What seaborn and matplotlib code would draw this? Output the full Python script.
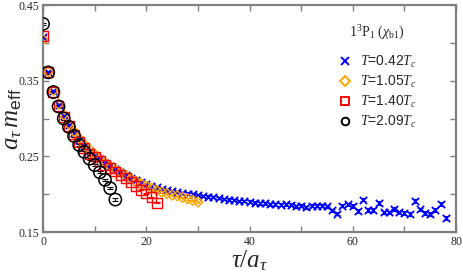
import numpy as np
import pandas as pd
import matplotlib
matplotlib.use("Agg")
import matplotlib.pyplot as plt
import seaborn as sns
from matplotlib.lines import Line2D
from matplotlib.ticker import MultipleLocator

# ---- data ----
tau_042 = list(range(0, 79))
m_042 = [0.408, 0.361, 0.336, 0.318, 0.303, 0.291, 0.281, 0.272, 0.264, 0.257,
         0.251, 0.246, 0.241, 0.237, 0.233, 0.229, 0.226, 0.222, 0.219, 0.216,
         0.213, 0.211, 0.209, 0.207, 0.205, 0.204, 0.203, 0.202, 0.201, 0.200,
         0.199, 0.198, 0.197, 0.196, 0.195, 0.194, 0.193, 0.192, 0.191, 0.191,
         0.190, 0.189, 0.188, 0.188, 0.187, 0.187, 0.186, 0.187, 0.186, 0.184,
         0.185, 0.183, 0.185, 0.185, 0.185, 0.184, 0.179, 0.174, 0.185, 0.187,
         0.184, 0.178, 0.193, 0.179, 0.179, 0.188, 0.176, 0.176, 0.181, 0.176,
         0.175, 0.174, 0.191, 0.180, 0.175, 0.174, 0.179, 0.187, 0.169]
e_042 = [0.001] * 20 + [0.0015] * 20 + [0.002] * 20 + [0.0025] * 19

tau_105 = list(range(0, 31))
m_105 = [0.404, 0.362, 0.337, 0.319, 0.305, 0.293, 0.283, 0.274, 0.266, 0.259,
         0.253, 0.247, 0.242, 0.237, 0.233, 0.229, 0.225, 0.221, 0.217, 0.214,
         0.211, 0.208, 0.205, 0.203, 0.201, 0.199, 0.198, 0.196, 0.194, 0.192,
         0.190]
e_105 = [0.001] * 31

tau_140 = list(range(0, 23))
m_140 = [0.409, 0.361, 0.335, 0.317, 0.302, 0.290, 0.279, 0.269, 0.261, 0.253,
         0.250, 0.244, 0.239, 0.235, 0.230, 0.225, 0.221, 0.216, 0.211, 0.206,
         0.201, 0.196, 0.189]
e_140 = [0.001] * 23

tau_209 = list(range(0, 15))
m_209 = [0.425, 0.361, 0.335, 0.316, 0.300, 0.289, 0.277, 0.265, 0.256, 0.247,
         0.2385, 0.229, 0.219, 0.208, 0.193]
e_209 = [0.0015] * 15

labels = [r"$\mathit{T}$=0.42$\mathit{T}_c$", r"$\mathit{T}$=1.05$\mathit{T}_c$",
          r"$\mathit{T}$=1.40$\mathit{T}_c$", r"$\mathit{T}$=2.09$\mathit{T}_c$"]
legend_title = r"1$^3$P$_1$ ($\chi_{\rm b1}$)"
x_ticks = [0, 20, 40, 60, 80]
y_ticks = [0.15, 0.25, 0.35, 0.45]

# ---- style ----
sns.set_theme(style="ticks")
plt.rcParams["font.family"] = ["Liberation Sans", "DejaVu Sans"]
plt.rcParams["mathtext.fontset"] = "custom"
plt.rcParams["mathtext.rm"] = "Liberation Serif"
plt.rcParams["mathtext.it"] = "Liberation Serif:italic"
plt.rcParams["mathtext.bf"] = "Liberation Serif:bold"
plt.rcParams["mathtext.sf"] = "Liberation Sans"

fig = plt.figure(figsize=(4.63, 2.78), dpi=100)
ax = fig.add_axes([0.093, 0.165, 0.892, 0.817])

series = [
    (tau_042, m_042, e_042, "#0000ff", "x", 28, 1.2),
    (tau_105, m_105, e_105, "#ffa500", "D", 26, 1.0),
    (tau_140, m_140, e_140, "#ff0000", "s", 50, 1.0),
    (tau_209, m_209, e_209, "#000000", "o", 78, 1.1),
]
handles = []
for (t, m, e, c, mk, s, lw), lab in zip(series, labels):
    df = pd.DataFrame({"tau": t, "m": m})
    ax.errorbar(t, m, yerr=e, fmt="none", ecolor=c, elinewidth=0.8,
                capsize=2.5, capthick=0.8, zorder=2)
    if mk == "x":
        sns.scatterplot(data=df, x="tau", y="m", ax=ax, marker="x", color=c,
                        s=s, linewidth=lw, zorder=3, legend=False)
    else:
        sns.scatterplot(data=df, x="tau", y="m", ax=ax, marker=mk,
                        facecolor="none", edgecolor=c, s=s, linewidth=lw,
                        zorder=3, legend=False)
    handles.append(Line2D([], [], linestyle="none", marker=mk, color=c,
                          markerfacecolor="none" if mk != "x" else c,
                          markeredgecolor=c, markersize=5.5, markeredgewidth=1.4,
                          label=lab))

ax.set_xlim(0, 80)
ax.set_ylim(0.15, 0.45)
ax.set_xticks(x_ticks)
ax.set_yticks(y_ticks)
ax.xaxis.set_minor_locator(MultipleLocator(10))
ax.yaxis.set_minor_locator(MultipleLocator(0.05))
ax.set_xticklabels([str(v) for v in x_ticks], family="Liberation Serif", fontsize=8.5)
ax.set_yticklabels([f"{v:.2f}" for v in y_ticks], family="Liberation Serif", fontsize=8.5)
ax.tick_params(which="both", direction="in", top=True, right=True, length=4,
               width=1, color="#808080", pad=3)
for sp in ax.spines.values():
    sp.set_color("#808080")
    sp.set_linewidth(1.6)

ax.set_xlabel(r"$\tau / a_\tau$", fontsize=18, labelpad=0)
ax.set_ylabel(r"$a_\tau\, m_{\mathsf{eff}}$", fontsize=18)
ax.yaxis.set_label_coords(-0.045, 0.5)

leg = ax.legend(handles=handles, title=legend_title, loc="upper left",
                bbox_to_anchor=(0.70, 0.94), frameon=False, fontsize=10,
                title_fontsize=10, handletextpad=0.6, labelspacing=0.3,
                handlelength=1.0, borderaxespad=0)
leg.get_title().set_family("Liberation Serif")
leg._legend_box.sep = 8

fig.savefig("out.png", dpi=100)
